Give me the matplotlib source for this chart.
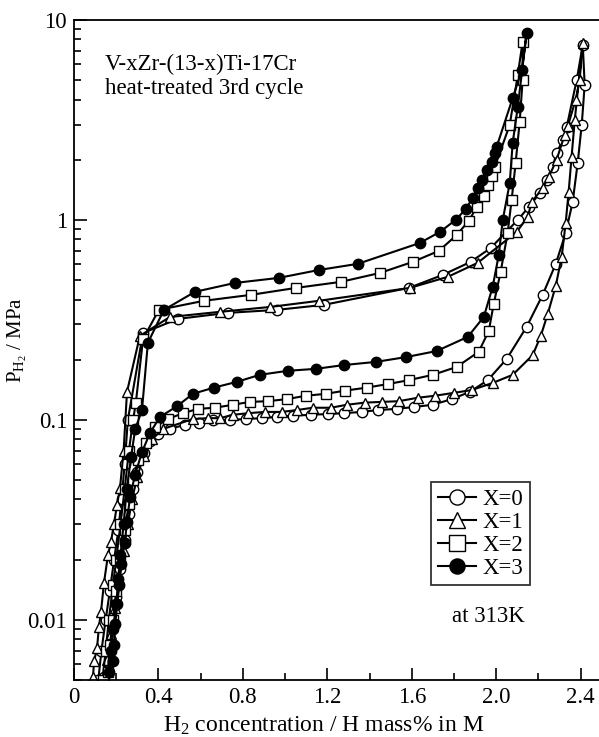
import numpy as np
import matplotlib
matplotlib.use("Agg")
import matplotlib.pyplot as plt
from matplotlib.ticker import LogLocator, MultipleLocator, FixedLocator, NullFormatter

plt.rcParams['font.family'] = ['Liberation Serif', 'DejaVu Serif']
plt.rcParams['mathtext.fontset'] = 'custom'
plt.rcParams['mathtext.rm'] = 'Liberation Serif'
plt.rcParams['mathtext.it'] = 'Liberation Serif:italic'

# each loop: absorption (going up) then desorption (coming down), H mass% vs MPa
x0_abs = [0.115, 0.13, 0.15, 0.17, 0.19, 0.21, 0.225, 0.24, 0.255, 0.327,
          0.492, 0.729, 0.961, 1.183, 1.586, 1.747, 1.879, 1.974, 2.102, 2.154, 2.206,
          2.239, 2.267, 2.286, 2.315, 2.334, 2.381, 2.41]
p0_abs = [0.005, 0.007, 0.01, 0.014, 0.02, 0.028, 0.04, 0.06, 0.10, 0.272,
          0.32, 0.343, 0.355, 0.376, 0.457, 0.531, 0.617, 0.724, 1.0, 1.16, 1.36,
          1.58, 1.84, 2.16, 2.51, 2.92, 5.0, 7.5]
x0_des = [2.419, 2.405, 2.386, 2.362, 2.329, 2.282, 2.22, 2.144, 2.05, 1.96, 1.875,
          1.789, 1.70, 1.61, 1.529, 1.439, 1.363, 1.278, 1.202, 1.122, 1.037, 0.961,
          0.89, 0.814, 0.738, 0.658, 0.592, 0.525, 0.454, 0.398, 0.36, 0.33, 0.30,
          0.28, 0.26, 0.24, 0.22, 0.20, 0.18, 0.16, 0.14]
p0_des = [4.73, 2.99, 1.93, 1.23, 0.86, 0.603, 0.422, 0.292, 0.202, 0.158, 0.138,
          0.127, 0.119, 0.116, 0.1135, 0.112, 0.1096, 0.108, 0.107, 0.106, 0.105, 0.1035,
          0.102, 0.101, 0.10, 0.10, 0.0966, 0.0944, 0.0902, 0.0851, 0.078, 0.068, 0.055,
          0.045, 0.034, 0.025, 0.018, 0.013, 0.0095, 0.007, 0.0052]

x1_abs = [0.09, 0.095, 0.109, 0.118, 0.128, 0.142, 0.161, 0.175, 0.189, 0.204, 0.218,
          0.235, 0.251, 0.312, 0.454, 0.691, 0.928, 1.16, 1.59, 1.77, 1.912, 2.097,
          2.149, 2.168, 2.22, 2.249, 2.286, 2.324, 2.339, 2.376, 2.395, 2.41]
p1_abs = [0.0052, 0.0062, 0.0072, 0.0092, 0.011, 0.0153, 0.0211, 0.0245, 0.030, 0.0376,
          0.0457, 0.07, 0.138, 0.263, 0.327, 0.347, 0.367, 0.394, 0.457, 0.519, 0.61,
          0.871, 1.035, 1.23, 1.445, 1.64, 2.0, 2.66, 2.95, 3.98, 5.0, 7.67]
x1_des = [2.372, 2.357, 2.343, 2.329, 2.31, 2.282, 2.244, 2.211, 2.173, 2.078, 1.983,
          1.884, 1.799, 1.709, 1.628, 1.538, 1.458, 1.378, 1.292, 1.217, 1.131, 1.056,
          0.985, 0.904, 0.824, 0.753, 0.691, 0.634, 0.563, 0.421, 0.37, 0.33, 0.30,
          0.275, 0.255, 0.235, 0.215, 0.195, 0.175, 0.155, 0.14]
p1_des = [3.16, 2.07, 1.38, 0.966, 0.653, 0.468, 0.339, 0.263, 0.211, 0.168, 0.153,
          0.141, 0.1365, 0.132, 0.129, 0.124, 0.123, 0.122, 0.119, 0.115, 0.115, 0.112,
          0.1096, 0.1096, 0.108, 0.106, 0.102, 0.102, 0.101, 0.09, 0.08, 0.066, 0.052,
          0.04, 0.03, 0.022, 0.016, 0.0115, 0.0085, 0.0063, 0.005]

x2_abs = [0.135, 0.15, 0.165, 0.185, 0.20, 0.22, 0.24, 0.26, 0.28, 0.293, 0.327,
          0.402, 0.615, 0.838, 1.051, 1.264, 1.449, 1.605, 1.728, 1.813, 1.87, 1.908,
          1.941, 1.96, 1.979, 1.993, 2.064, 2.102, 2.125]
p2_abs = [0.005, 0.007, 0.01, 0.015, 0.02, 0.03, 0.045, 0.07, 0.10, 0.122, 0.254,
          0.355, 0.394, 0.422, 0.457, 0.49, 0.543, 0.617, 0.70, 0.841, 0.99, 1.16,
          1.318, 1.496, 1.66, 1.84, 2.99, 5.3, 7.8]
x2_des = [2.125, 2.111, 2.092, 2.073, 2.054, 2.021, 1.988, 1.965, 1.917, 1.813, 1.70,
          1.586, 1.486, 1.387, 1.283, 1.193, 1.098, 1.008, 0.918, 0.833, 0.753, 0.667,
          0.587, 0.516, 0.445, 0.383, 0.341, 0.303, 0.28, 0.26, 0.24, 0.22, 0.20,
          0.185, 0.17, 0.16]
p2_des = [5.0, 3.09, 1.93, 1.26, 0.86, 0.55, 0.38, 0.279, 0.219, 0.184, 0.168,
          0.158, 0.151, 0.145, 0.14, 0.135, 0.132, 0.127, 0.124, 0.123, 0.119, 0.115,
          0.1135, 0.108, 0.101, 0.092, 0.077, 0.063, 0.05, 0.038, 0.028, 0.02, 0.014,
          0.01, 0.0075, 0.0055]

x3_abs = [0.165, 0.175, 0.185, 0.20, 0.21, 0.22, 0.235, 0.25, 0.27, 0.29, 0.322,
          0.35, 0.426, 0.573, 0.762, 0.97, 1.16, 1.344, 1.638, 1.733, 1.808, 1.856,
          1.889, 1.912, 1.931, 1.955, 1.979, 1.993, 2.002, 2.078, 2.121, 2.144]
p3_abs = [0.0055, 0.007, 0.009, 0.012, 0.016, 0.021, 0.03, 0.045, 0.065, 0.09, 0.112,
          0.243, 0.355, 0.437, 0.484, 0.513, 0.562, 0.603, 0.767, 0.871, 1.0,
          1.135, 1.29, 1.445, 1.585, 1.78, 1.95, 2.16, 2.32, 4.07, 5.6, 8.6]
x3_des = [2.102, 2.078, 2.064, 2.031, 2.012, 1.983, 1.941, 1.865, 1.718, 1.572, 1.43,
          1.278, 1.146, 1.013, 0.88, 0.772, 0.663, 0.563, 0.488, 0.407, 0.36, 0.322,
          0.289, 0.265, 0.251, 0.241, 0.223, 0.215, 0.205, 0.195, 0.19, 0.185]
p3_des = [3.67, 2.43, 1.53, 1.0, 0.668, 0.462, 0.327, 0.26, 0.221, 0.206, 0.195,
          0.188, 0.18, 0.176, 0.168, 0.155, 0.145, 0.135, 0.117, 0.1035, 0.086, 0.069,
          0.053, 0.041, 0.031, 0.0243, 0.019, 0.015, 0.012, 0.0095, 0.0075, 0.0062]

labels = ['X=0', 'X=1', 'X=2', 'X=3']
series = [(x0_abs + x0_des, p0_abs + p0_des, 'o', 'white'),
          (x1_abs + x1_des, p1_abs + p1_des, '^', 'white'),
          (x2_abs + x2_des, p2_abs + p2_des, 's', 'white'),
          (x3_abs + x3_des, p3_abs + p3_des, 'o', 'black')]

fig = plt.figure(figsize=(5.99, 7.37), dpi=100)
ax = fig.add_axes([74/599, 57/737, 532/599, 660/737])

for (xs, ps, m, fc), lab in zip(series, labels):
    ax.plot(xs, ps, color='black', lw=1.5, marker=m, ms=7.5, mfc=fc, mec='black',
            mew=1.0, label=lab)

ax.set_yscale('log')
ax.set_xlim(0, 2.52)
ax.set_ylim(0.005, 10)

ax.xaxis.set_minor_locator(MultipleLocator(0.2))
ax.set_xticks([0, 0.4, 0.8, 1.2, 1.6, 2.0, 2.4])
ax.set_xticklabels(['0', '0.4', '0.8', '1.2', '1.6', '2.0', '2.4'])
ax.yaxis.set_major_locator(FixedLocator([0.01, 0.1, 1, 10]))
ax.set_yticklabels(['0.01', '0.1', '1', '10'])
ax.yaxis.set_minor_locator(LogLocator(base=10, subs=np.arange(2, 10)))
ax.yaxis.set_minor_formatter(NullFormatter())

ax.tick_params(which='both', direction='in', top=False, right=False, labelsize=16.5, width=1.2)
ax.tick_params(which='major', length=9, pad=5)
ax.tick_params(which='minor', length=5)
for s in ax.spines.values():
    s.set_linewidth(1.3)

ax.set_xlabel(r'H$_2$ concentration / H mass% in M', fontsize=17)
ax.xaxis.set_label_coords(0.47, -0.052)
ax.set_ylabel(r'P$_{\mathrm{H}_2}$ / MPa', fontsize=15)
ax.yaxis.set_label_coords(-0.084, 0.515)

ax.text(0.058, 0.948, 'V-xZr-(13-x)Ti-17Cr\nheat-treated 3rd cycle', transform=ax.transAxes,
        fontsize=16.5, va='top', ha='left', linespacing=1.15)

leg = ax.legend(loc='upper left', bbox_to_anchor=(0.671, 0.30), fontsize=16.5,
                frameon=True, fancybox=False, edgecolor='black', handlelength=1.65,
                handletextpad=0.3, borderpad=0.3, labelspacing=0.08, borderaxespad=0,
                markerscale=1.45)
leg.get_frame().set_linewidth(1.3)

ax.text(0.778, 0.0955, 'at 313K', transform=ax.transAxes, fontsize=16.5,
        ha='center', va='center')

fig.savefig('out.png', dpi=100)
